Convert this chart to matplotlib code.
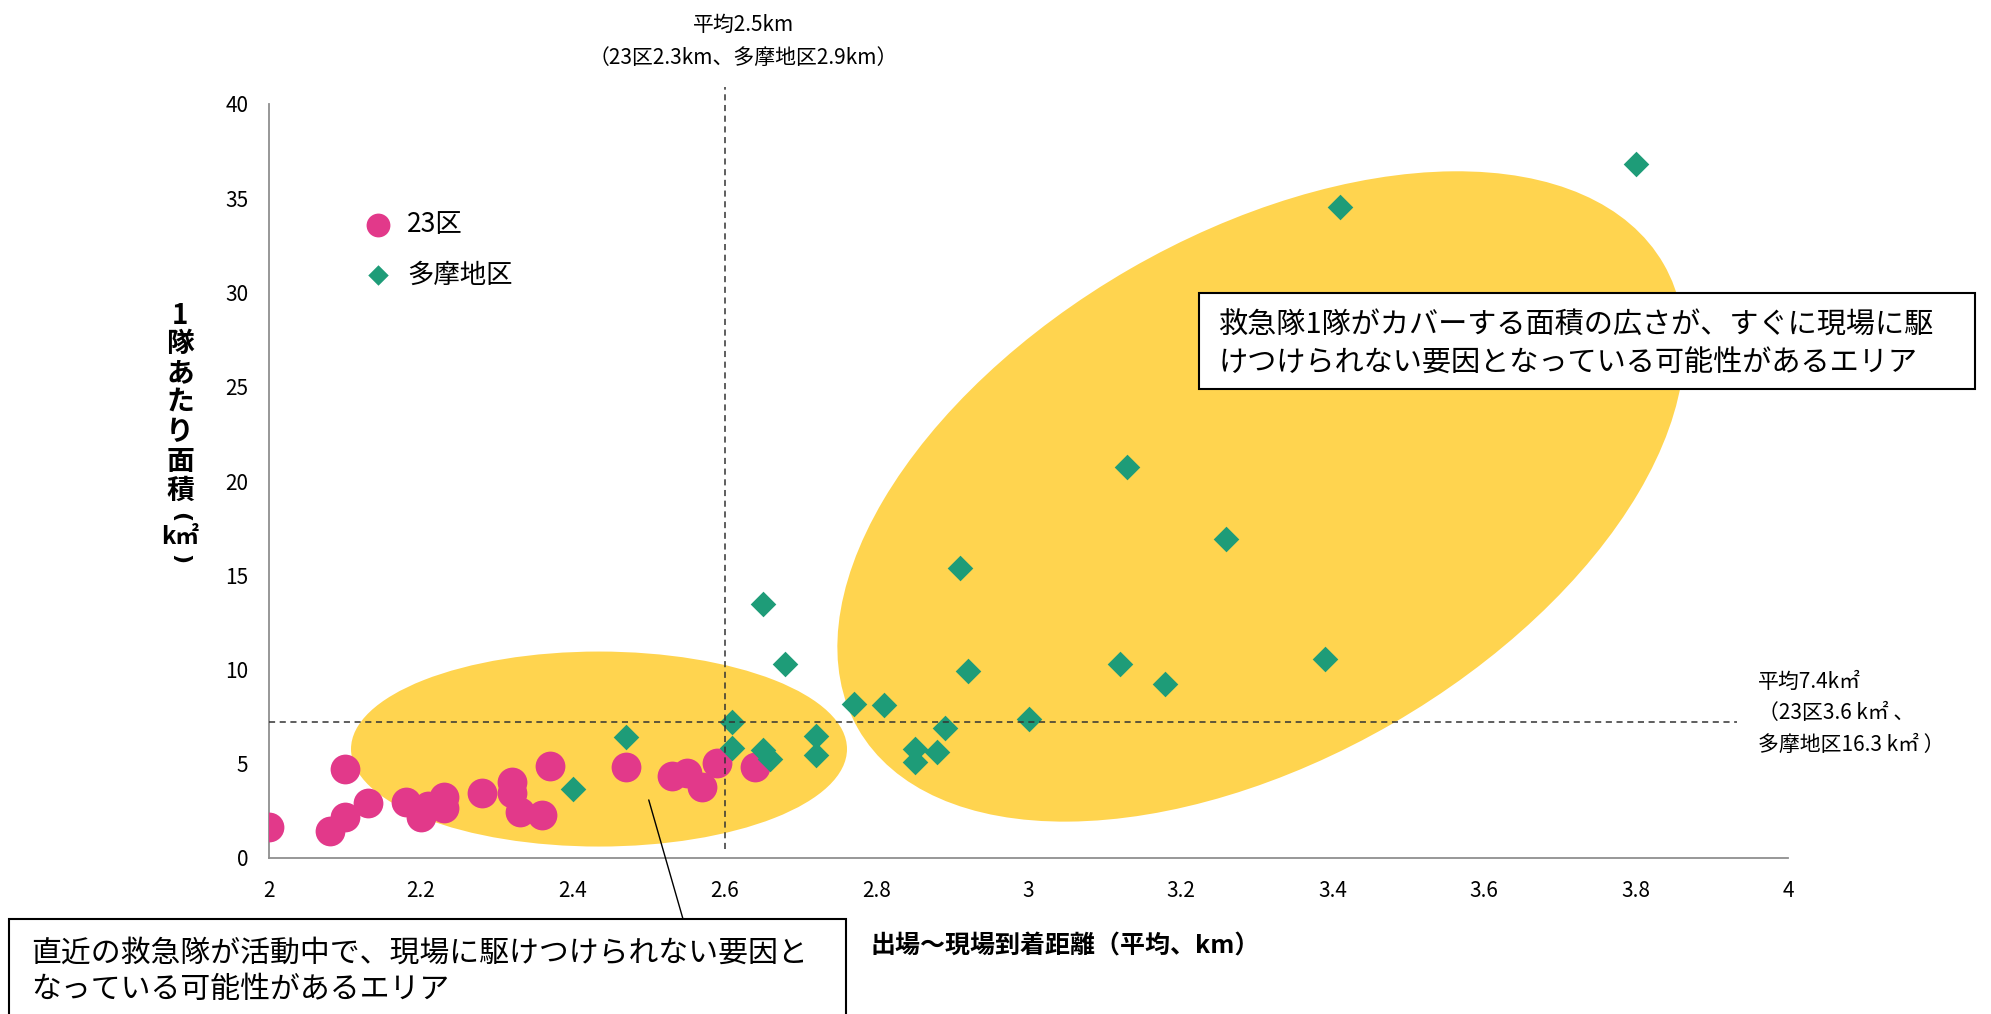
import matplotlib
matplotlib.use("Agg")
import matplotlib.pyplot as plt
from matplotlib.patches import Ellipse, Rectangle
from matplotlib.transforms import ScaledTranslation, IdentityTransform

plt.rcParams['font.family'] = ['Noto Sans CJK JP', 'DejaVu Sans']

# 23区 (distance km, area km2 per ambulance)
ku_x = [2.00, 2.08, 2.10, 2.10, 2.13, 2.18, 2.20, 2.21, 2.23, 2.23, 2.28,
        2.32, 2.32, 2.33, 2.36, 2.37, 2.47, 2.53, 2.55, 2.57, 2.59, 2.64]
ku_y = [1.66, 1.45, 2.19, 4.70, 2.90, 2.95, 2.16, 2.75, 3.22, 2.64, 3.46,
        4.05, 3.43, 2.46, 2.28, 4.88, 4.81, 4.35, 4.53, 3.78, 5.02, 4.84]

# 多摩地区
tama_x = [2.40, 2.47, 2.61, 2.61, 2.65, 2.65, 2.66, 2.68, 2.72, 2.72, 2.77,
          2.81, 2.85, 2.85, 2.88, 2.89, 2.91, 2.92, 3.00, 3.12, 3.13, 3.18,
          3.26, 3.39, 3.41, 3.80]
tama_y = [3.66, 6.44, 7.23, 5.82, 13.46, 5.75, 5.26, 10.28, 6.47, 5.48, 8.17,
          8.12, 5.77, 5.11, 5.64, 6.88, 15.37, 9.92, 7.36, 10.28, 20.76, 9.21,
          16.90, 10.54, 34.55, 36.82]

avg_dist = 2.6
avg_area = 7.2

x_ticks = [2, 2.2, 2.4, 2.6, 2.8, 3, 3.2, 3.4, 3.6, 3.8, 4]
x_tick_labels = ['2', '2.2', '2.4', '2.6', '2.8', '3', '3.2', '3.4', '3.6', '3.8', '4']
y_ticks = [0, 5, 10, 15, 20, 25, 30, 35, 40]

PINK = '#E2398A'
GREEN = '#1E9C78'
YELLOW = '#FFD44F'
W, H = 1991, 1014


def fx(px):
    return px / W


def fy(py):
    # py measured from the top of the image
    return 1 - py / H


fig = plt.figure(figsize=(W / 100, H / 100), dpi=100)
ax = fig.add_axes([fx(269), fy(858), 1519 / W, 754 / H])
ax.set_xlim(2, 4)
ax.set_ylim(0, 40)


def add_area(cx, cy, w_px, h_px, angle):
    # ellipse sized in pixels, centred on a data point
    e = Ellipse((0, 0), w_px, h_px, angle=angle, facecolor=YELLOW,
                edgecolor='none', zorder=1, clip_on=False,
                transform=ScaledTranslation(cx, cy, ax.transData))
    ax.add_patch(e)


add_area(2.4345, 5.78, 496, 195, 0)
add_area(3.306, 19.18, 930, 525, 30)

ax.scatter(ku_x, ku_y, s=460, color=PINK, marker='o', linewidths=0,
           zorder=3, label='23区')
ax.scatter(tama_x, tama_y, s=170, color=GREEN, marker='D', linewidths=0,
           zorder=4, label='多摩地区')

ax.plot([avg_dist, avg_dist], [0.5, 40.9], color='#333333', lw=1.1,
        ls=(0, (4, 3)), zorder=5, clip_on=False)
ax.plot([2.0, 3.933], [avg_area, avg_area], color='#333333', lw=1.1,
        ls=(0, (4, 3)), zorder=5, clip_on=False)

ax.set_xticks(x_ticks)
ax.set_xticklabels(x_tick_labels)
ax.set_yticks(y_ticks)
ax.tick_params(axis='both', length=0, labelsize=15, colors='black')
ax.tick_params(axis='x', pad=16)
ax.tick_params(axis='y', pad=15)
for side in ['top', 'right']:
    ax.spines[side].set_visible(False)
for side in ['left', 'bottom']:
    ax.spines[side].set_color('#8f8f8f')
    ax.spines[side].set_linewidth(1.3)

ax.legend(loc='center left', bbox_to_anchor=(0.0632, 0.807), frameon=False,
          fontsize=19, handlelength=1.0, handletextpad=0.6, labelspacing=0.9,
          markerscale=0.8, borderpad=0, borderaxespad=0)

# average labels
fig.text(fx(744), fy(25), '平均2.5km', ha='center', va='center', fontsize=15)
fig.text(fx(743), fy(58), '（23区2.3km、多摩地区2.9km）', ha='center',
         va='center', fontsize=15)
fig.text(fx(1758), fy(682), '平均7.4k㎡', ha='left', va='center', fontsize=15)
fig.text(fx(1758), fy(713), '（23区3.6 k㎡ 、', ha='left', va='center', fontsize=15)
fig.text(fx(1758), fy(745), '多摩地区16.3 k㎡ ）', ha='left', va='center', fontsize=15)

# axis titles
fig.text(fx(1065), fy(947), '出場～現場到着距離（平均、km）', ha='center',
         va='center', fontsize=18, fontweight='bold')
# vertical (tategaki) y label, one character per row
for ch, py in zip(['1', '隊', 'あ', 'た', 'り', '面', '積'],
                  [316, 344, 373, 402, 432, 462, 491]):
    fig.text(fx(180), fy(py), ch, ha='center', va='center',
             fontsize=20, fontweight='bold')
fig.text(fx(180), fy(517), '(', ha='center', va='center', rotation=-90,
         fontsize=16, fontweight='bold', family='DejaVu Sans')
fig.text(fx(180), fy(537), 'k㎡', ha='center', va='center',
         fontsize=17, fontweight='bold')
fig.text(fx(180), fy(559), ')', ha='center', va='center', rotation=-90,
         fontsize=16, fontweight='bold', family='DejaVu Sans')

# callout boxes
fig.add_artist(Rectangle((1199, H - 389), 776, 96, transform=IdentityTransform(),
                         facecolor='white', edgecolor='black', lw=1.5, zorder=6))
fig.text(fx(1219), fy(326), '救急隊1隊がカバーする面積の広さが、すぐに現場に駆',
         ha='left', va='center', fontsize=21, zorder=7)
fig.text(fx(1219), fy(364), 'けつけられない要因となっている可能性があるエリア',
         ha='left', va='center', fontsize=21, zorder=7)

fig.add_artist(Rectangle((9, -10), 837, H - 919 + 10, transform=IdentityTransform(),
                         facecolor='white', edgecolor='black', lw=1.5, zorder=6))
fig.text(fx(31), fy(953), '直近の救急隊が活動中で、現場に駆けつけられない要因と',
         ha='left', va='center', fontsize=21.5, zorder=7)
fig.text(fx(31), fy(989), 'なっている可能性があるエリア',
         ha='left', va='center', fontsize=21.5, zorder=7)

ax.annotate('', xy=(2.5, 3.08), xycoords='data', xytext=(683, H - 919),
            textcoords='figure pixels',
            arrowprops=dict(arrowstyle='-', color='black', lw=1.0,
                            shrinkA=0, shrinkB=0), zorder=6)

fig.savefig('out.png', dpi=100)
